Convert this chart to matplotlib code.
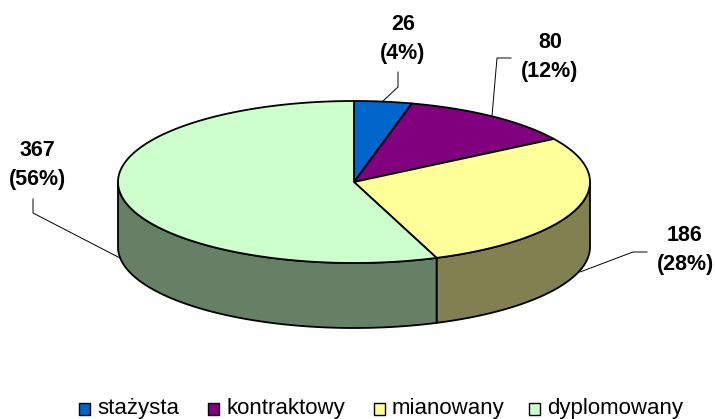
import numpy as np
import matplotlib
matplotlib.use("Agg")
import matplotlib.pyplot as plt
from matplotlib.patches import Polygon, Rectangle

plt.rcParams["font.family"] = ["Liberation Sans", "DejaVu Sans"]

categories = ["stażysta", "kontraktowy", "mianowany", "dyplomowany"]
values = [26, 80, 186, 367]
top_colors = ["#0066CC", "#800080", "#FFFF99", "#CCFFCC"]
side_colors = ["#003366", "#400040", "#808050", "#668066"]

# pie geometry in pixels
CX, CY = 354, 182
RX, RY = 236, 81
DEPTH = 65


def rim(angles):
    """Points on the top ellipse, angle in degrees clockwise from 12 o'clock."""
    t = np.radians(angles)
    return CX + RX * np.sin(t), CY - RY * np.cos(t)


fig = plt.figure(figsize=(7.15, 4.19), dpi=100)
ax = fig.add_axes([0, 0, 1, 1])
ax.set_xlim(0, 715)
ax.set_ylim(419, 0)
ax.axis("off")

total = sum(values)
edges = np.concatenate([[0], np.cumsum(values)]) / total * 360

# side wall, only the front half is visible
for i in range(len(values)):
    a0, a1 = max(edges[i], 90), min(edges[i + 1], 270)
    if a1 <= a0:
        continue
    x, y = rim(np.linspace(a0, a1, 120))
    xs = np.concatenate([x, x[::-1]])
    ys = np.concatenate([y, y[::-1] + DEPTH])
    ax.add_patch(Polygon(np.column_stack([xs, ys]), closed=True, facecolor=side_colors[i],
                         edgecolor="black", linewidth=1.3, joinstyle="round"))

# top face
for i in range(len(values)):
    x, y = rim(np.linspace(edges[i], edges[i + 1], 200))
    xs = np.concatenate([[CX], x])
    ys = np.concatenate([[CY], y])
    ax.add_patch(Polygon(np.column_stack([xs, ys]), closed=True, facecolor=top_colors[i],
                         edgecolor="black", linewidth=1.3, joinstyle="round"))

# data labels and leader lines
label_pos = [(403, 39), (550, 57), (685, 250), (37, 165)]
leaders = [
    ([398, 398, 383], [72, 87, 101]),
    ([511, 497, 492], [58, 58, 116]),
    ([647, 633, 580], [252, 252, 272]),
    ([33, 33, 120], [199, 213, 258]),
]
for v, (lx, ly), (px, py) in zip(values, label_pos, leaders):
    ax.plot(px, py, color="black", linewidth=0.7)
    ax.text(lx, ly, f"{v}\n({round(100 * v / total)}%)", ha="center", va="center",
            fontsize=15.5, fontweight="bold", linespacing=1.45, color="black")

# legend, placed by hand
box_x = [79, 208, 374, 529]
text_x = [97, 227, 392, 547]
for name, color, bx, tx in zip(categories, top_colors, box_x, text_x):
    ax.add_patch(Rectangle((bx, 403), 11, 12, facecolor=color, edgecolor="black", linewidth=1))
    ax.text(tx, 408, name, ha="left", va="center", fontsize=16, color="black")

fig.savefig("out.png", dpi=100)
plt.close(fig)
